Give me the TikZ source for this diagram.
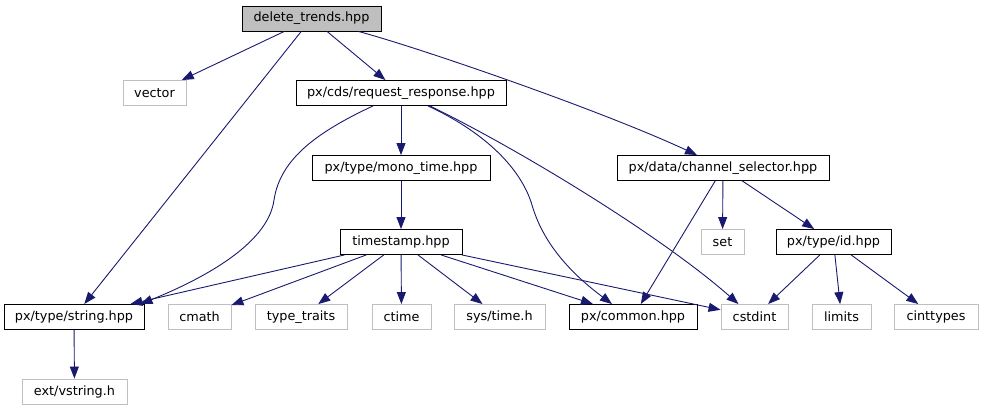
\documentclass[tikz,border=0pt]{standalone}
\usepackage{fontspec}
\setmainfont{DejaVu Sans}
\usepackage{xcolor}
\usetikzlibrary{arrows.meta,positioning}

\definecolor{edgeblue}{HTML}{191970}
\definecolor{lightgrey}{HTML}{BFBFBF}

\tikzset{
    hdr/.style={draw=black, fill=white, line width=0.9pt, minimum height=25pt,
        inner sep=0pt, font=\fontsize{12.8}{15}\selectfont},
    syshdr/.style={hdr, draw=lightgrey},
    mainhdr/.style={hdr, fill=lightgrey},
    edge/.style={draw=edgeblue, line width=0.9pt,
        -{Triangle[length=12pt,width=9pt]}}
}

\begin{document}
\begin{tikzpicture}[x=1pt, y=-1pt]
\useasboundingbox (0,0) rectangle (983,411);

% Nodes
\node[mainhdr, minimum width=139pt] (dt) at (311.5,18.5) {delete\_trends.hpp};

\node[syshdr, minimum width=63pt] (vector) at (154.5,93) {vector};
\node[hdr, minimum width=210pt] (rr) at (401,93) {px/cds/request\_response.hpp};

\node[hdr, minimum width=178pt] (mt) at (401,168) {px/type/mono\_time.hpp};
\node[hdr, minimum width=212pt] (cs) at (723,168) {px/data/channel\_selector.hpp};

\node[hdr, minimum width=122pt] (ts) at (401,242) {timestamp.hpp};
\node[syshdr, minimum width=43pt] (set) at (722.5,242) {set};
\node[hdr, minimum width=115pt] (id) at (833.5,242) {px/type/id.hpp};

\node[hdr, minimum width=140pt] (string) at (74,317) {px/type/string.hpp};
\node[syshdr, minimum width=63pt] (cmath) at (199.5,317) {cmath};
\node[syshdr, minimum width=92pt] (traits) at (301,317) {type\_traits};
\node[syshdr, minimum width=59pt] (ctime) at (401.5,317) {ctime};
\node[syshdr, minimum width=91pt] (systime) at (499.5,317) {sys/time.h};
\node[hdr, minimum width=128pt] (common) at (633,317) {px/common.hpp};
\node[syshdr, minimum width=67pt] (cstdint) at (754.5,317) {cstdint};
\node[syshdr, minimum width=59pt] (limits) at (841.5,317) {limits};
\node[syshdr, minimum width=84pt] (cinttypes) at (936,317) {cinttypes};

\node[syshdr, minimum width=105pt] (vstring) at (74.5,391.5) {ext/vstring.h};

% Straight includes
\foreach \from/\to in {dt/vector, dt/string, dt/rr, rr/mt, mt/ts,
    ts/string, ts/cmath, ts/traits, ts/ctime, ts/systime, ts/common, ts/cstdint,
    cs/common, cs/set, cs/id, id/cstdint, id/limits, id/cinttypes, string/vstring}
    \draw[edge] (\from) -- (\to);

% Curved includes
\draw[edge] ([xshift=-23pt]dt.south east) .. controls (420,48) and (600,110) .. ([xshift=-26pt]cs.north);
\draw[edge] ([xshift=-28pt]rr.south) .. controls (315,133) and (280,160) .. (274,200)
    .. controls (268,245) and (200,280) .. ([xshift=-4pt]string.north east);
\draw[edge] ([xshift=27pt]rr.south) .. controls (480,130) and (520,165) .. (532,205)
    .. controls (545,250) and (580,280) .. ([xshift=-21pt]common.north);
\draw[edge] ([xshift=29pt]rr.south) .. controls (520,150) and (660,235) .. ([xshift=-16pt]cstdint.north);

\end{tikzpicture}
\end{document}
